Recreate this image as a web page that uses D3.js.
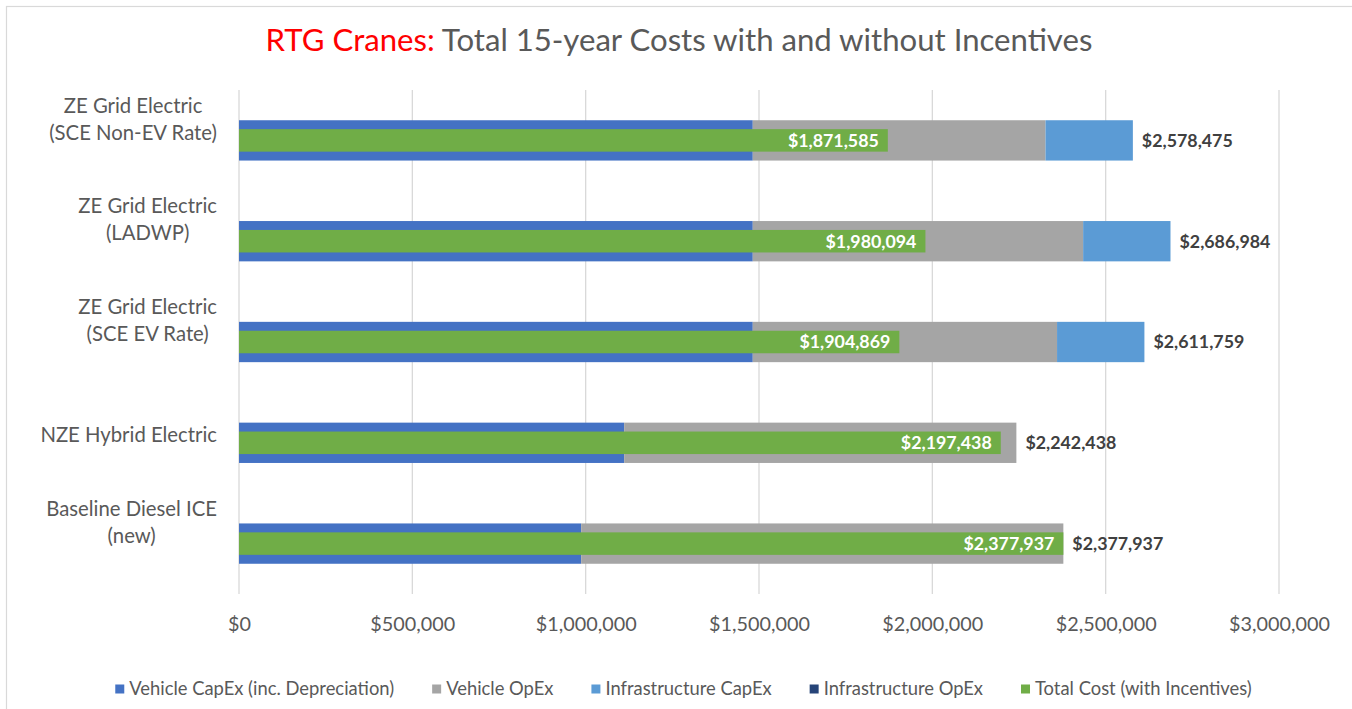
<!DOCTYPE html>
<html>
<head>
<meta charset="utf-8">
<script src="https://cdn.jsdelivr.net/npm/d3@7"></script>
<style>
  html, body { margin: 0; padding: 0; background: #ffffff; }
  svg { display: block; }
  text { font-family: Lato, "Open Sans", sans-serif; }
</style>
</head>
<body>
<svg id="chart" width="1352" height="709"></svg>
<script>
// ---------------- data ----------------
const categories = [
  "ZE Grid Electric\n(SCE Non-EV Rate)",
  "ZE Grid Electric\n(LADWP)",
  "ZE Grid Electric\n(SCE EV Rate)",
  "NZE Hybrid Electric",
  "Baseline Diesel ICE\n(new)"
];
const vehicleCapex   = [1482000, 1482000, 1482000, 1111000, 987000];
const vehicleOpex    = [844475, 952984, 877759, 1131438, 1390937];
const infraCapex     = [252000, 252000, 252000, 0, 0];
const infraOpex      = [0, 0, 0, 0, 0];
const totalWithIncentives = [1871585, 1980094, 1904869, 2197438, 2377937];
const xTicks = [0, 500000, 1000000, 1500000, 2000000, 2500000, 3000000];
const seriesNames = ["Vehicle CapEx (inc. Depreciation)", "Vehicle OpEx", "Infrastructure CapEx", "Infrastructure OpEx", "Total Cost (with Incentives)"];
const seriesColors = ["#4472C4", "#A5A5A5", "#5B9BD5", "#264478", "#70AD47"];

// ---------------- layout ----------------
const svg = d3.select("#chart");
const W = 1352, H = 709;
const plot = { left: 239, right: 1279, top: 90, bottom: 594 };
const textColor = "#595959";
const fmt = d3.format("$,.0f");

function fitFont(sel, target, start) {
  let fs = start;
  sel.style("font-size", fs + "px");
  const w = sel.node().getComputedTextLength();
  if (w > 0) { fs = fs * target / w; sel.style("font-size", fs + "px"); }
  return fs;
}

// chart border (top/left visible)
svg.append("rect")
  .attr("x", 6.5).attr("y", 6.5)
  .attr("width", W + 20).attr("height", H + 20)
  .attr("fill", "#ffffff").attr("stroke", "#D9D9D9").attr("stroke-width", 1.2);

const x = d3.scaleLinear().domain([0, 3000000]).range([plot.left, plot.right]);
const y = d3.scaleBand().domain(categories).range([plot.top, plot.bottom])
  .paddingInner(0.6).paddingOuter(0.3);

// gridlines
svg.append("g").selectAll("line").data(xTicks).join("line")
  .attr("x1", d => x(d)).attr("x2", d => x(d))
  .attr("y1", plot.top).attr("y2", plot.bottom)
  .attr("stroke", "#D9D9D9").attr("stroke-width", 1.3);

// x axis tick labels
const xAxis = d3.axisBottom(x).tickValues(xTicks).tickFormat(fmt).tickSize(0).tickPadding(0);
const gx = svg.append("g").attr("transform", `translate(0, 624)`).call(xAxis);
gx.select(".domain").remove();
gx.selectAll("text")
  .attr("fill", textColor).attr("dy", "0.35em").attr("y", 0)
  .style("font-family", "Lato, sans-serif");
{
  const last = gx.selectAll("text").filter(d => d === 3000000);
  const fs = fitFont(last, 101, 18);
  gx.selectAll("text").style("font-size", fs + "px");
}

// stacked bars
const rows = categories.map((c, i) => ({
  cat: c, vc: vehicleCapex[i], vo: vehicleOpex[i], ic: infraCapex[i], io: infraOpex[i]
}));
const keys = ["vc", "vo", "ic", "io"];
const stack = d3.stack().keys(keys)(rows);

svg.append("g").selectAll("g").data(stack).join("g")
  .attr("fill", (d, i) => seriesColors[i])
  .selectAll("rect").data(d => d).join("rect")
  .attr("x", d => x(d[0]))
  .attr("width", d => Math.max(0, x(d[1]) - x(d[0])))
  .attr("y", d => y(d.data.cat))
  .attr("height", y.bandwidth());

// total-with-incentives bars (overlapping, narrower)
const gh = 22.5;
svg.append("g").selectAll("rect").data(categories).join("rect")
  .attr("x", x(0))
  .attr("width", (d, i) => x(totalWithIncentives[i]) - x(0))
  .attr("y", d => y(d) + y.bandwidth() / 2 - gh / 2)
  .attr("height", gh)
  .attr("fill", seriesColors[4]);

// labels inside green bars
const inLabels = svg.append("g").selectAll("text").data(categories).join("text")
  .attr("x", (d, i) => x(totalWithIncentives[i]) - 9)
  .attr("y", d => y(d) + y.bandwidth() / 2)
  .attr("dy", "0.36em")
  .attr("text-anchor", "end")
  .attr("fill", "#ffffff")
  .attr("font-weight", "bold")
  .text((d, i) => fmt(totalWithIncentives[i]));

// total labels outside
const totals = rows.map(r => r.vc + r.vo + r.ic + r.io);
const outLabels = svg.append("g").selectAll("text").data(categories).join("text")
  .attr("x", (d, i) => x(totals[i]) + 9)
  .attr("y", d => y(d) + y.bandwidth() / 2)
  .attr("dy", "0.36em")
  .attr("fill", "#404040")
  .attr("font-weight", "bold")
  .text((d, i) => fmt(totals[i]));
{
  const fs = fitFont(outLabels.filter((d, i) => i === 0), 91, 16);
  outLabels.style("font-size", fs + "px");
  inLabels.style("font-size", fs + "px");
}

// category labels: each block right-aligned at x=217, lines centred within block
const catG = svg.append("g");
let catFs = 19;
{
  const probe = catG.append("text").text("(SCE Non-EV Rate)");
  catFs = fitFont(probe, 168, 19);
  probe.remove();
}
categories.forEach(c => {
  const lines = c.split("\n");
  const cy = y(c) + y.bandwidth() / 2 - 8;
  const texts = lines.map((ln, j) => catG.append("text")
    .attr("y", cy - (lines.length - 1 - j) * 27)
    .attr("dy", "0.35em")
    .attr("text-anchor", "middle")
    .attr("fill", textColor)
    .style("font-size", catFs + "px")
    .text(ln));
  const maxW = d3.max(texts, t => t.node().getComputedTextLength());
  texts.forEach(t => t.attr("x", 217 - maxW / 2));
});

// title
const title = svg.append("text")
  .attr("x", 679).attr("y", 51)
  .attr("text-anchor", "middle")
  .attr("fill", textColor);
title.append("tspan").attr("fill", "#FF0000").text("RTG Cranes:");
title.append("tspan").text(" Total 15-year Costs with and without Incentives");
fitFont(title, 827, 30);

// legend
const legend = svg.append("g");
const items = seriesNames.map((n, i) => {
  const g = legend.append("g");
  g.append("rect").attr("width", 9).attr("height", 9).attr("y", -4.5).attr("fill", seriesColors[i]);
  const t = g.append("text").attr("x", 14).attr("dy", "0.35em").attr("fill", textColor).text(n);
  return { g, t };
});
const lfs = fitFont(items[0].t, 265, 16);
items.forEach(it => it.t.style("font-size", lfs + "px"));
const gap = 38;
const widths = items.map(it => 14 + it.t.node().getComputedTextLength());
const totalW = d3.sum(widths) + gap * (items.length - 1);
let lx = 683.5 - totalW / 2;
items.forEach((it, i) => {
  it.g.attr("transform", `translate(${lx}, 689)`);
  lx += widths[i] + gap;
});
</script>
</body>
</html>
